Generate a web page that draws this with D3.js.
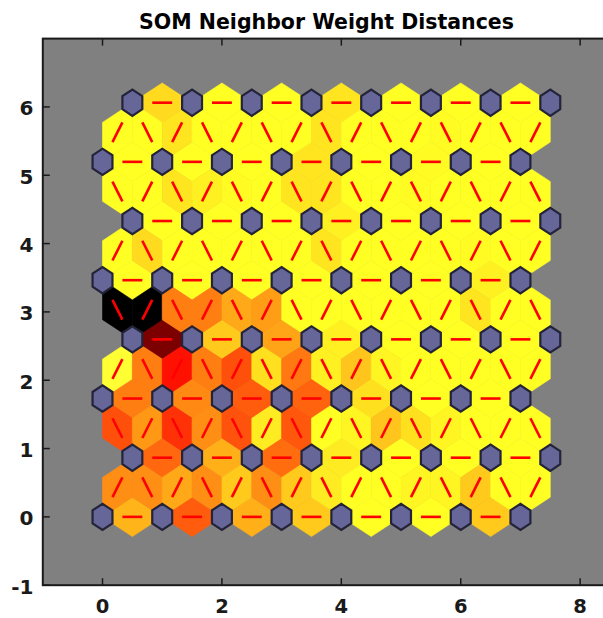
<!DOCTYPE html>
<meta charset="utf-8">
<script src="https://d3js.org/d3.v7.min.js"></script>
<style>
  body { margin: 0; background: #fff; }
  text { font-family: "DejaVu Sans", sans-serif; font-weight: bold; }
</style>
<div id="chart"></div>
<script>
// neighbor distances (0 = closest / yellow, 1 = farthest / black)
// horizontal pairs, one array per layer row (7 pairs each)
var hRow0 = [0.20, 0.36, 0.21, 0.16, 0.02, 0.03, 0.16];
var hRow1 = [0.34, 0.21, 0.33, 0.10, 0.02, 0.03, 0.02];
var hRow2 = [0.30, 0.28, 0.36, 0.35, 0.12, 0.03, 0.02];
var hRow3 = [0.77, 0.16, 0.23, 0.09, 0.02, 0.02, 0.03];
var hRow4 = [0.02, 0.03, 0.02, 0.04, 0.02, 0.03, 0.09];
var hRow5 = [0.03, 0.02, 0.03, 0.09, 0.02, 0.03, 0.02];
var hRow6 = [0.02, 0.06, 0.03, 0.11, 0.02, 0.07, 0.02];
var hRow7 = [0.13, 0.02, 0.03, 0.11, 0.02, 0.06, 0.02];

// diagonal pairs between row g and g+1 (15 each, left to right)
var gap0 = [0.27, 0.27, 0.22, 0.27, 0.16, 0.27, 0.16, 0.10, 0.03, 0.04, 0.08, 0.08, 0.16, 0.03, 0.02];
var gap1 = [0.385, 0.25, 0.44, 0.27, 0.38, 0.10, 0.37, 0.04, 0.08, 0.17, 0.12, 0.08, 0.03, 0.02, 0.02];
var gap2 = [0.00, 0.30, 0.50, 0.30, 0.385, 0.12, 0.31, 0.09, 0.17, 0.08, 0.02, 0.02, 0.03, 0.02, 0.03];
var gap3 = [1.00, 1.00, 0.30, 0.30, 0.22, 0.24, 0.06, 0.03, 0.03, 0.02, 0.02, 0.03, 0.11, 0.02, 0.02];
var gap4 = [0.02, 0.13, 0.03, 0.02, 0.03, 0.02, 0.03, 0.11, 0.02, 0.03, 0.02, 0.05, 0.07, 0.02, 0.02];
var gap5 = [0.02, 0.03, 0.11, 0.09, 0.07, 0.03, 0.11, 0.11, 0.02, 0.03, 0.07, 0.03, 0.02, 0.02, 0.02];
var gap6 = [0.02, 0.02, 0.11, 0.03, 0.02, 0.02, 0.03, 0.11, 0.03, 0.02, 0.03, 0.07, 0.02, 0.03, 0.02];

var hRows = [hRow0, hRow1, hRow2, hRow3, hRow4, hRow5, hRow6, hRow7];
var gaps = [gap0, gap1, gap2, gap3, gap4, gap5, gap6];

var xTicks = [0, 2, 4, 6, 8];
var yTicks = [-1, 0, 1, 2, 3, 4, 5, 6];
var chartTitle = "SOM Neighbor Weight Distances";
var nRows = 8, nCols = 8;

var width = 603, height = 618;
var svg = d3.select("#chart").append("svg")
    .attr("width", width)
    .attr("height", height);

var x = d3.scaleLinear().domain([-1, 8.5]).range([42.8, 610]);
var y = d3.scaleLinear().domain([-1, 7]).range([585.2, 38.6]);

var rowH = Math.sqrt(0.75);
function pos(r, c) { return [c + (r % 2) * 0.5, r * rowH]; }

// hot colormap, distance 0 -> p=0.8 (yellow), distance 1 -> p=0 (black)
function hot(d) {
  var p = 0.8 * (1 - d);
  var r = Math.min(1, p / 0.375),
      g = Math.max(0, Math.min(1, (p - 0.375) / 0.375)),
      b = Math.max(0, Math.min(1, (p - 0.75) / 0.25));
  b = Math.max(b, 0.14 * g);
  return d3.rgb(r * 255, g * 255, b * 255).toString();
}

// build list of neighbor pairs
var edges = [];
hRows.forEach(function(row, r) {
  row.forEach(function(d, c) {
    edges.push({a: pos(r, c), b: pos(r, c + 1), d: d});
  });
});
gaps.forEach(function(row, g) {
  row.forEach(function(d, k) {
    var mx = 0.25 + 0.5 * k;
    var slash = (g + k) % 2 === 0;
    var lo = [slash ? mx - 0.25 : mx + 0.25, g * rowH];
    var hi = [slash ? mx + 0.25 : mx - 0.25, (g + 1) * rowH];
    edges.push({a: lo, b: hi, d: d});
  });
});

var w = 1 / (6 * Math.sqrt(3)), h = 1 / (2 * Math.sqrt(3));
function patchPoints(e) {
  var dx = e.b[0] - e.a[0], dy = e.b[1] - e.a[1];
  var len = Math.sqrt(dx * dx + dy * dy);
  var ux = dx / len, uy = dy / len, vx = -uy, vy = ux;
  var mx = (e.a[0] + e.b[0]) / 2, my = (e.a[1] + e.b[1]) / 2;
  var pts = [
    [e.a[0] + ux / 6 + w * vx, e.a[1] + uy / 6 + w * vy],
    [mx + h * vx, my + h * vy],
    [e.b[0] - ux / 6 + w * vx, e.b[1] - uy / 6 + w * vy],
    [e.b[0] - ux / 6 - w * vx, e.b[1] - uy / 6 - w * vy],
    [mx - h * vx, my - h * vy],
    [e.a[0] + ux / 6 - w * vx, e.a[1] + uy / 6 - w * vy]
  ];
  return pts.map(function(p) { return x(p[0]) + "," + y(p[1]); }).join(" ");
}

// axes background
svg.append("rect")
  .attr("x", x(-1)).attr("y", y(7))
  .attr("width", x(8.5) - x(-1)).attr("height", y(-1) - y(7))
  .attr("fill", "#808080");

// distance patches
svg.append("g").selectAll("polygon")
  .data(edges).enter().append("polygon")
  .attr("points", patchPoints)
  .attr("fill", function(d) { return hot(d.d); })
  .attr("stroke", function(d) { return hot(d.d); })
  .attr("stroke-width", 0.6);

// red connection lines
svg.append("g").selectAll("line")
  .data(edges).enter().append("line")
  .attr("x1", function(e) { return x(e.a[0] + (e.b[0] - e.a[0]) / 3); })
  .attr("y1", function(e) { return y(e.a[1] + (e.b[1] - e.a[1]) / 3); })
  .attr("x2", function(e) { return x(e.a[0] + 2 * (e.b[0] - e.a[0]) / 3); })
  .attr("y2", function(e) { return y(e.a[1] + 2 * (e.b[1] - e.a[1]) / 3); })
  .attr("stroke", "#ff0000")
  .attr("stroke-width", 2.6);

// neurons
var neurons = [];
for (var r = 0; r < nRows; r++)
  for (var c = 0; c < nCols; c++) neurons.push(pos(r, c));
var R = 1 / (3 * Math.sqrt(3));
var hexAngles = d3.range(6).map(function(i) { return Math.PI / 6 + i * Math.PI / 3; });
svg.append("g").selectAll("polygon")
  .data(neurons).enter().append("polygon")
  .attr("points", function(p) {
    return hexAngles.map(function(t) {
      return x(p[0] + R * Math.cos(t)) + "," + y(p[1] + R * Math.sin(t));
    }).join(" ");
  })
  .attr("fill", "#666699")
  .attr("stroke", "#23233a")
  .attr("stroke-width", 2.2);

// box
var x0 = x(-1), x1 = x(8.5), y0 = y(7), y1 = y(-1);
svg.append("rect")
  .attr("x", x0).attr("y", y0)
  .attr("width", x1 - x0).attr("height", y1 - y0)
  .attr("fill", "none").attr("stroke", "#1a1a1a").attr("stroke-width", 2);

// ticks (inside) and labels
var tl = 7;
xTicks.forEach(function(t) {
  svg.append("line").attr("x1", x(t)).attr("x2", x(t)).attr("y1", y1).attr("y2", y1 - tl)
    .attr("stroke", "#1a1a1a").attr("stroke-width", 1.5);
  svg.append("line").attr("x1", x(t)).attr("x2", x(t)).attr("y1", y0).attr("y2", y0 + tl)
    .attr("stroke", "#1a1a1a").attr("stroke-width", 1.5);
  svg.append("text").attr("x", x(t)).attr("y", 612.5)
    .attr("text-anchor", "middle").attr("font-size", 19.5).attr("fill", "#1a1a1a")
    .text(t);
});
yTicks.forEach(function(t) {
  svg.append("line").attr("x1", x0).attr("x2", x0 + tl).attr("y1", y(t)).attr("y2", y(t))
    .attr("stroke", "#1a1a1a").attr("stroke-width", 1.5);
  svg.append("line").attr("x1", x1).attr("x2", x1 - tl).attr("y1", y(t)).attr("y2", y(t))
    .attr("stroke", "#1a1a1a").attr("stroke-width", 1.5);
  svg.append("text").attr("x", 33.5).attr("y", y(t) + 8.5)
    .attr("text-anchor", "end").attr("font-size", 20).attr("fill", "#1a1a1a")
    .text(t);
});

svg.append("text")
  .attr("x", 326.5).attr("y", 29.3)
  .attr("text-anchor", "middle").attr("font-size", 20.5).attr("fill", "#000")
  .text(chartTitle);
</script>
